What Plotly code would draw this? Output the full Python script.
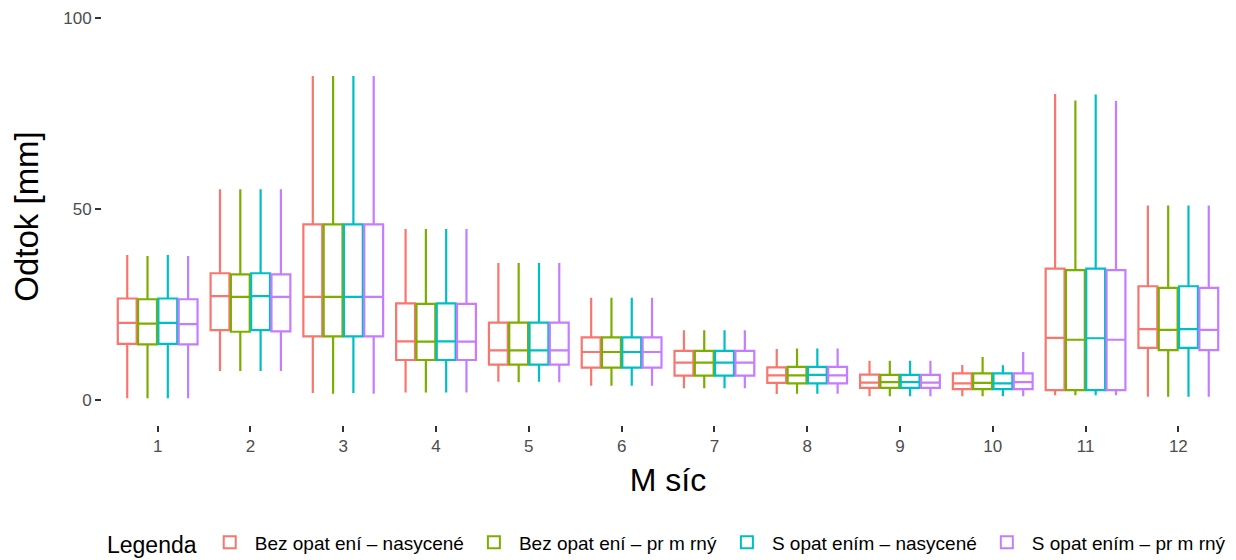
import plotly.graph_objects as go

months = [1, 2, 3, 4, 5, 6, 7, 8, 9, 10, 11, 12]
tick_labels = ["1", "2", "3", "4", "5", "6", "7", "8", "9", "10", "11", "12"]

series_names = [
    "Bez opat ení – nasycené",
    "Bez opat ení – pr m rný",
    "S opat ením – nasycené",
    "S opat ením – pr m rný",
]
colors = ["#F8766D", "#7CAE00", "#00BFC4", "#C77CFF"]

# Bez opatření – nasycené
s1_lo = [0.5, 7.6, 1.9, 2.0, 4.8, 3.8, 3.1, 1.6, 1.0, 1.0, 1.3, 0.9]
s1_q1 = [14.7, 18.3, 16.7, 10.5, 9.3, 8.5, 6.4, 4.5, 3.2, 2.9, 2.6, 13.7]
s1_med = [20.2, 27.2, 27.0, 15.4, 13.0, 12.6, 9.8, 6.5, 4.6, 4.4, 16.3, 18.6]
s1_q3 = [26.6, 33.2, 46.0, 25.3, 20.3, 16.4, 12.9, 8.6, 6.7, 7.0, 34.4, 29.8]
s1_hi = [38.0, 55.2, 84.8, 44.8, 35.9, 26.8, 18.3, 13.4, 10.3, 9.2, 80.1, 50.9]

# Bez opatření – průměrný
s2_lo = [0.5, 7.6, 1.7, 2.0, 4.7, 3.8, 3.1, 1.7, 1.0, 1.0, 1.3, 0.9]
s2_q1 = [14.6, 17.9, 16.7, 10.5, 9.3, 8.5, 6.4, 4.4, 3.2, 2.9, 2.6, 13.1]
s2_med = [20.0, 27.0, 27.0, 15.3, 13.0, 12.6, 9.8, 6.5, 4.7, 4.5, 15.8, 18.4]
s2_q3 = [26.4, 32.9, 46.0, 25.2, 20.3, 16.4, 12.9, 8.7, 6.6, 7.0, 34.0, 29.4]
s2_hi = [37.7, 55.2, 84.8, 44.8, 35.9, 26.8, 18.3, 13.5, 10.3, 11.3, 78.4, 50.9]

# S opatřením – nasycené
s3_lo = [0.5, 7.6, 1.9, 2.0, 4.8, 3.8, 3.1, 1.7, 1.0, 1.0, 1.3, 0.9]
s3_q1 = [14.7, 18.3, 16.7, 10.5, 9.3, 8.5, 6.4, 4.4, 3.2, 2.9, 2.6, 13.7]
s3_med = [20.2, 27.2, 27.0, 15.4, 13.0, 12.6, 9.8, 6.6, 4.7, 4.4, 16.2, 18.6]
s3_q3 = [26.6, 33.2, 46.0, 25.3, 20.3, 16.4, 12.9, 8.7, 6.6, 7.0, 34.4, 29.8]
s3_hi = [38.0, 55.2, 84.8, 44.8, 35.9, 26.8, 18.3, 13.5, 10.3, 9.1, 80.0, 50.9]

# S opatřením – průměrný
s4_lo = [0.5, 7.6, 1.7, 2.0, 4.7, 3.8, 3.1, 1.7, 1.0, 1.0, 1.3, 0.9]
s4_q1 = [14.6, 18.0, 16.7, 10.5, 9.3, 8.5, 6.4, 4.4, 3.2, 2.9, 2.6, 13.1]
s4_med = [19.9, 27.0, 27.0, 15.3, 13.0, 12.6, 9.8, 6.5, 4.6, 4.7, 15.8, 18.4]
s4_q3 = [26.4, 32.9, 46.0, 25.2, 20.3, 16.4, 12.9, 8.7, 6.6, 7.0, 34.0, 29.4]
s4_hi = [37.7, 55.2, 84.8, 44.8, 35.9, 26.8, 18.3, 13.5, 10.3, 12.6, 78.3, 50.9]

stats = [
    (s1_lo, s1_q1, s1_med, s1_q3, s1_hi),
    (s2_lo, s2_q1, s2_med, s2_q3, s2_hi),
    (s3_lo, s3_q1, s3_med, s3_q3, s3_hi),
    (s4_lo, s4_q1, s4_med, s4_q3, s4_hi),
]

FONT = "Liberation Sans, Arial, Helvetica, sans-serif"

fig = go.Figure()
for name, color, (lo, q1, med, q3, hi) in zip(series_names, colors, stats):
    fig.add_trace(go.Box(
        name=name,
        x=months,
        lowerfence=lo,
        q1=q1,
        median=med,
        q3=q3,
        upperfence=hi,
        fillcolor="white",
        line=dict(color=color, width=2.2),
        whiskerwidth=0,
        boxpoints=False,
        hoverinfo="skip",
    ))

# the page body adds an 8 px margin, so the figure is 8 px smaller each way
fig.update_layout(
    width=1228,
    height=552,
    boxmode="group",
    boxgap=0.125,
    boxgroupgap=0.07,
    plot_bgcolor="white",
    paper_bgcolor="white",
    margin=dict(l=94, r=2, t=0, b=135, autoexpand=False),
    font=dict(family=FONT, color="#000000"),
    xaxis=dict(
        range=[0.4, 12.6],
        tickmode="array",
        tickvals=months,
        ticktext=tick_labels,
        ticks="outside",
        ticklen=6,
        tickwidth=1.5,
        tickcolor="#333333",
        showgrid=False,
        zeroline=False,
        showline=False,
        automargin=False,
        tickfont=dict(size=17, color="#4d4d4d"),
        title=dict(text="M síc", font=dict(size=32, color="#000000"), standoff=13),
    ),
    yaxis=dict(
        range=[-6.5, 102.6],
        tickmode="array",
        tickvals=[0, 50, 100],
        ticktext=["0", "50", "100"],
        ticks="outside",
        ticklen=6,
        tickwidth=1.5,
        tickcolor="#333333",
        showgrid=False,
        zeroline=False,
        showline=False,
        automargin=False,
        tickfont=dict(size=17, color="#4d4d4d"),
        title=dict(text="Odtok [mm]", font=dict(size=33, color="#000000"), standoff=19),
    ),
    legend=dict(
        orientation="h",
        yref="paper",
        y=-0.284,
        yanchor="middle",
        x=0.5,
        xanchor="center",
        title=dict(text="Legenda", font=dict(size=23, color="#000000"), side="left"),
        font=dict(size=19, color="#000000"),
        itemsizing="constant",
        itemwidth=40,
        tracegroupgap=0,
    ),
    showlegend=True,
)

fig.write_html("out.html")
